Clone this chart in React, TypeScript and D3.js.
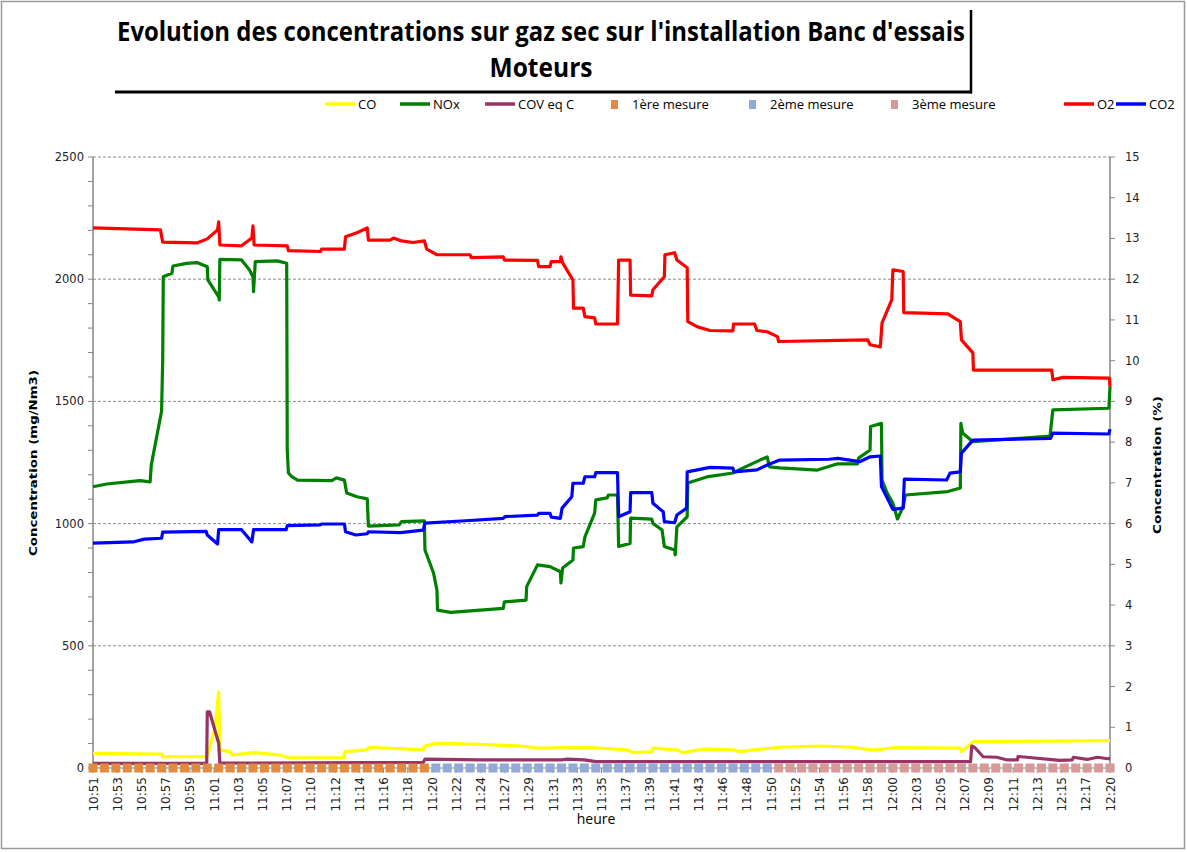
import React from 'react';
import * as d3 from 'd3';

const W = 1187;
const H = 852;

const title1 = "Evolution des concentrations sur gaz sec sur l'installation Banc d'essais";
const title2 = 'Moteurs';

const timeLabels = [
  '10:51', '10:53', '10:55', '10:57', '10:59', '11:01', '11:03', '11:05', '11:07', '11:10',
  '11:12', '11:14', '11:16', '11:18', '11:20', '11:22', '11:24', '11:27', '11:29', '11:31',
  '11:33', '11:35', '11:37', '11:39', '11:41', '11:43', '11:46', '11:48', '11:50', '11:52',
  '11:54', '11:56', '11:58', '12:00', '12:03', '12:05', '12:07', '12:09', '12:11', '12:13',
  '12:15', '12:17', '12:20',
];
// duration in minutes from 10:51 to 12:20
const totalMinutes = 89;

const leftTicks = [0, 500, 1000, 1500, 2000, 2500];
const rightTicks = [0, 1, 2, 3, 4, 5, 6, 7, 8, 9, 10, 11, 12, 13, 14, 15];

// [minutes since 10:51, mg/Nm3]
const coData: [number, number][] = [
  [0, 60], [6.0, 57], [6.1, 46], [10.0, 46], [10.7, 169], [11.0, 312], [11.1, 74], [12.0, 67],
  [12.2, 53], [14.0, 63], [16.4, 53], [17.06, 42], [21.9, 42], [22.05, 67], [24.0, 74],
  [24.15, 85], [28.9, 74], [29.05, 90], [30.1, 101], [33.9, 97], [37.4, 90], [38.9, 81],
  [43.2, 85], [46.7, 74], [47.3, 63], [48.9, 67], [49.0, 81], [51.1, 74], [51.6, 63],
  [53.4, 77], [56.0, 74], [56.6, 67], [57.8, 74], [60.1, 85], [63.6, 90], [66.5, 85],
  [68.0, 74], [68.6, 74], [70.0, 83], [75.9, 81], [76.0, 67], [76.7, 94], [77.0, 108], [89, 112],
];

const noxData: [number, number][] = [
  [0, 1151], [1.2, 1162], [4.1, 1176], [5.0, 1171], [5.1, 1240], [6.0, 1460], [6.1, 1669],
  [6.15, 2010], [6.9, 2024], [7.0, 2054], [8.2, 2065], [9.1, 2068], [10.0, 2051], [10.05, 1997],
  [11.0, 1928], [11.05, 1915], [11.1, 2081], [13.0, 2079], [13.7, 2038], [14.0, 2010],
  [14.05, 1949], [14.2, 2072], [16.1, 2075], [16.95, 2065], [17.0, 1300], [17.1, 1207],
  [17.4, 1192], [17.9, 1178], [20.9, 1176], [21.3, 1187], [22.0, 1178], [22.2, 1125],
  [23.1, 1110], [24.0, 1101], [24.1, 990], [26.8, 995], [27.0, 1008], [29.0, 1011],
  [29.05, 892], [29.8, 798], [30.1, 728], [30.15, 646], [31.3, 637], [35.9, 653], [36.0, 680],
  [37.9, 687], [37.95, 742], [38.9, 831], [40.0, 824], [40.9, 803], [40.95, 757], [41.1, 818],
  [42.0, 851], [42.05, 900], [42.9, 906], [43.05, 946], [43.9, 1043], [44.0, 1097],
  [45.0, 1105], [45.1, 1117], [45.9, 1117], [46.0, 906], [47.0, 919], [47.05, 1022],
  [48.9, 1018], [49.0, 1001], [49.8, 974], [50.0, 906], [50.9, 892], [50.95, 872], [51.1, 987],
  [52.0, 1028], [52.05, 1166], [53.7, 1191], [56.0, 1207], [56.9, 1228], [59.0, 1273],
  [59.2, 1232], [60.1, 1228], [63.4, 1219], [65.1, 1244], [66.9, 1244], [67.0, 1268],
  [68.0, 1301], [68.05, 1397], [69.0, 1410], [69.05, 1178], [69.5, 1125], [70.0, 1084],
  [70.4, 1019], [70.9, 1069], [71.1, 1117], [74.8, 1131], [75.9, 1146], [75.95, 1410],
  [76.1, 1371], [77.0, 1335], [83.75, 1358], [84.0, 1465], [88.9, 1472], [89, 1560],
];

const covData: [number, number][] = [
  [0, 19], [9.95, 19], [10.0, 230], [10.2, 230], [11.0, 101], [11.1, 20], [28.9, 23],
  [29.05, 36], [33.9, 33], [41.0, 33], [41.5, 36], [43.0, 33], [44.0, 26], [76.8, 26],
  [76.9, 90], [77.2, 82], [77.9, 46], [79.1, 44], [80.0, 33], [80.9, 33], [80.95, 47],
  [81.7, 44], [84.6, 31], [85.7, 33], [85.8, 44], [87.0, 35], [87.9, 44], [88.8, 38], [89, 38],
];

// [minutes since 10:51, %]
const o2Data: [number, number][] = [
  [0, 13.26], [5.9, 13.21], [6.1, 12.91], [9.1, 12.89], [10.0, 12.99], [10.9, 13.21],
  [11.0, 13.41], [11.1, 12.84], [13.0, 12.82], [13.9, 13.01], [14.0, 13.31], [14.1, 12.84],
  [17.0, 12.82], [17.1, 12.70], [19.9, 12.68], [20.0, 12.74], [22.0, 12.74], [22.1, 13.04],
  [23.1, 13.14], [24.0, 13.26], [24.1, 12.96], [26.0, 12.96], [26.3, 13.01], [27.0, 12.94],
  [28.0, 12.90], [29.0, 12.94], [29.2, 12.74], [30.1, 12.60], [33.0, 12.60], [33.1, 12.53],
  [35.9, 12.55], [36.0, 12.47], [38.9, 12.46], [39.0, 12.31], [40.0, 12.31], [40.1, 12.43],
  [40.9, 12.43], [40.95, 12.55], [41.1, 12.40], [42.0, 11.98], [42.05, 11.29], [42.9, 11.29],
  [43.05, 11.08], [43.9, 11.05], [44.0, 10.90], [45.9, 10.90], [46.0, 12.47], [47.0, 12.47],
  [47.05, 11.61], [48.9, 11.59], [49.0, 11.74], [50.0, 12.06], [50.05, 12.60], [50.9, 12.65],
  [51.1, 12.47], [52.0, 12.28], [52.05, 10.96], [52.9, 10.83], [54.0, 10.74], [56.0, 10.73],
  [56.05, 10.90], [57.9, 10.90], [58.1, 10.74], [59.0, 10.71], [59.9, 10.59], [60.0, 10.47],
  [67.8, 10.51], [68.0, 10.39], [68.9, 10.34], [69.05, 10.93], [69.9, 11.49], [70.0, 12.23],
  [70.9, 12.19], [70.95, 11.18], [74.8, 11.15], [75.9, 10.96], [76.0, 10.51], [77.0, 10.19],
  [77.05, 9.77], [83.9, 9.77], [84.0, 9.53], [84.9, 9.59], [88.95, 9.57], [89, 9.36],
];

const co2Data: [number, number][] = [
  [0, 5.52], [3.5, 5.55], [4.5, 5.62], [6.0, 5.64], [6.1, 5.79], [9.9, 5.81], [10.0, 5.72],
  [10.9, 5.50], [11.0, 5.85], [13.0, 5.85], [13.9, 5.55], [14.05, 5.85], [16.9, 5.85],
  [17.0, 5.95], [19.9, 5.97], [20.0, 5.99], [22.0, 5.99], [22.1, 5.80], [23.0, 5.72],
  [24.0, 5.75], [24.1, 5.80], [26.9, 5.78], [28.9, 5.84], [29.05, 6.01], [32.6, 6.07],
  [35.9, 6.13], [36.05, 6.17], [38.9, 6.21], [39.0, 6.25], [40.0, 6.25], [40.1, 6.16],
  [40.9, 6.13], [41.05, 6.38], [41.9, 6.66], [42.0, 6.99], [42.9, 6.99], [43.05, 7.15],
  [43.9, 7.15], [44.0, 7.25], [45.9, 7.25], [46.0, 6.17], [47.0, 6.29], [47.05, 6.76],
  [48.9, 6.76], [49.0, 6.50], [49.9, 6.29], [50.0, 6.05], [50.9, 6.02], [51.1, 6.21],
  [51.95, 6.38], [52.0, 7.27], [54.0, 7.38], [56.0, 7.36], [56.1, 7.27], [58.1, 7.32],
  [59.0, 7.44], [60.1, 7.56], [64.4, 7.58], [65.2, 7.60], [67.1, 7.52], [68.0, 7.64],
  [68.9, 7.66], [69.0, 6.91], [70.0, 6.35], [70.9, 6.38], [71.0, 7.09], [74.7, 7.07],
  [75.0, 7.24], [75.9, 7.27], [76.0, 7.73], [77.0, 8.05], [83.8, 8.09], [84.0, 8.22],
  [88.9, 8.20], [89, 8.32],
];

// measurement markers (one per minute, value 0)
const mesure1 = d3.range(0, 30);
const mesure2 = d3.range(30, 60);
const mesure3 = d3.range(60, 90);

const colors = {
  co: '#FFFF00',
  nox: '#008000',
  cov: '#993366',
  m1: '#E08A42',
  m2: '#93AAD6',
  m3: '#D69A99',
  o2: '#FF0000',
  co2: '#0000FF',
};

const legendItems = [
  { label: 'CO', color: colors.co, type: 'line', x: 325 },
  { label: 'NOx', color: colors.nox, type: 'line', x: 400 },
  { label: 'COV eq C', color: colors.cov, type: 'line', x: 485 },
  { label: '1ère mesure', color: colors.m1, type: 'square', x: 611 },
  { label: '2ème mesure', color: colors.m2, type: 'square', x: 749 },
  { label: '3ème mesure', color: colors.m3, type: 'square', x: 891 },
  { label: 'O2', color: colors.o2, type: 'line', x: 1064 },
  { label: 'CO2', color: colors.co2, type: 'line', x: 1116 },
];

export default function App() {
  const left = 93;
  const right = 1110;
  const top = 157;
  const bottom = 768;

  const x = d3.scaleLinear().domain([0, totalMinutes]).range([left, right]);
  const yL = d3.scaleLinear().domain([0, 2500]).range([bottom, top]);
  const yR = d3.scaleLinear().domain([0, 15]).range([bottom, top]);

  const lineL = d3.line<[number, number]>().x((d) => x(d[0])).y((d) => yL(d[1]));
  const lineR = d3.line<[number, number]>().x((d) => x(d[0])).y((d) => yR(d[1]));

  const labelX = (i: number) => x((i * totalMinutes) / (timeLabels.length - 1));
  const minorLeft = d3.range(0, 2501, 100);

  const font = "'DejaVu Sans', Verdana, sans-serif";
  const narrow = "'Liberation Sans Narrow', 'Open Sans', Lato, sans-serif";

  const markerGroup = (arr: number[], color: string) =>
    arr.map((m, i) => (
      <rect key={i} x={x(m) - 4.5} y={yL(0) - 4.5} width={9} height={9} fill={color} />
    ));

  return (
    <div style={{ position: 'absolute', left: 0, top: 0 }}>
      <svg width={W} height={H} style={{ display: 'block', background: '#fff' }}>
        <rect x={1.5} y={1.5} width={1183} height={847} fill="#fff" stroke="#9a9a9a" strokeWidth={1.5} />

        {/* title box shadow */}
        <line x1={115} y1={92} x2={972} y2={92} stroke="#000" strokeWidth={3} />
        <line x1={971} y1={10} x2={971} y2={93.5} stroke="#000" strokeWidth={2.5} />
        <text x={541} y={41} textAnchor="middle" fontFamily={narrow} fontWeight="bold" fontSize={26}
          textLength={848} lengthAdjust="spacingAndGlyphs">{title1}</text>
        <text x={541} y={77} textAnchor="middle" fontFamily={narrow} fontWeight="bold" fontSize={26}
          textLength={103} lengthAdjust="spacingAndGlyphs">{title2}</text>

        {/* legend */}
        {legendItems.map((it) => (
          <g key={it.label}>
            {it.type === 'line' ? (
              <line x1={it.x} x2={it.x + 30} y1={104} y2={104} stroke={it.color} strokeWidth={3.5} />
            ) : (
              <rect x={it.x} y={100} width={7} height={9} fill={it.color} />
            )}
            <text x={it.type === 'line' ? it.x + 33 : it.x + 21} y={109} fontFamily={narrow} fontSize={13} fill="#000">
              {it.label}
            </text>
          </g>
        ))}

        {/* gridlines */}
        {leftTicks.filter((t) => t > 0).map((t) => (
          <line key={t} x1={left} x2={right} y1={yL(t)} y2={yL(t)} stroke="#8c8c8c" strokeWidth={1} strokeDasharray="3,2" />
        ))}

        {/* left axis */}
        <line x1={left} x2={left} y1={top} y2={bottom} stroke="#868686" strokeWidth={1.5} />
        {minorLeft.map((t) => (
          <line key={t} x1={left - 5} x2={left} y1={yL(t)} y2={yL(t)} stroke="#868686" strokeWidth={1} />
        ))}
        {leftTicks.map((t) => (
          <text key={t} x={left - 9} y={yL(t) + 4} textAnchor="end" fontFamily={font} fontSize={11.5} fill="#222">
            {t}
          </text>
        ))}
        <text transform={`translate(37,463) rotate(-90)`} textAnchor="middle" fontFamily={font} fontWeight="bold"
          fontSize={11} textLength={186} lengthAdjust="spacingAndGlyphs">Concentration (mg/Nm3)</text>

        {/* right axis */}
        <line x1={right} x2={right} y1={top} y2={bottom} stroke="#868686" strokeWidth={1.5} />
        {rightTicks.map((t) => (
          <g key={t}>
            <line x1={right} x2={right + 5} y1={yR(t)} y2={yR(t)} stroke="#868686" strokeWidth={1} />
            <text x={right + 15} y={yR(t) + 4} textAnchor="start" fontFamily={font} fontSize={11.5} fill="#222">
              {t}
            </text>
          </g>
        ))}
        <text transform={`translate(1161,465) rotate(-90)`} textAnchor="middle" fontFamily={font} fontWeight="bold"
          fontSize={11} textLength={138} lengthAdjust="spacingAndGlyphs">Concentration (%)</text>

        {/* x axis */}
        <line x1={left} x2={right} y1={bottom} y2={bottom} stroke="#868686" strokeWidth={1} />
        {timeLabels.map((l, i) => (
          <g key={l}>
            <line x1={labelX(i)} x2={labelX(i)} y1={bottom} y2={bottom + 5} stroke="#868686" strokeWidth={1} />
            <text transform={`translate(${labelX(i) + 4.5},${bottom + 9}) rotate(-90)`} textAnchor="end"
              fontFamily={font} fontSize={12} fill="#222">{l}</text>
          </g>
        ))}
        <text x={596} y={824} textAnchor="middle" fontFamily={narrow} fontSize={14} fill="#000">heure</text>

        {/* series */}
        <path d={lineL(coData) || ''} fill="none" stroke={colors.co} strokeWidth={3.2} strokeLinejoin="round" />
        <path d={lineL(noxData) || ''} fill="none" stroke={colors.nox} strokeWidth={3.2} strokeLinejoin="round" />
        <path d={lineL(covData) || ''} fill="none" stroke={colors.cov} strokeWidth={3.2} strokeLinejoin="round" />
        {markerGroup(mesure1, colors.m1)}
        {markerGroup(mesure2, colors.m2)}
        {markerGroup(mesure3, colors.m3)}
        <path d={lineR(o2Data) || ''} fill="none" stroke={colors.o2} strokeWidth={3.2} strokeLinejoin="round" />
        <path d={lineR(co2Data) || ''} fill="none" stroke={colors.co2} strokeWidth={3.2} strokeLinejoin="round" />
      </svg>
    </div>
  );
}
